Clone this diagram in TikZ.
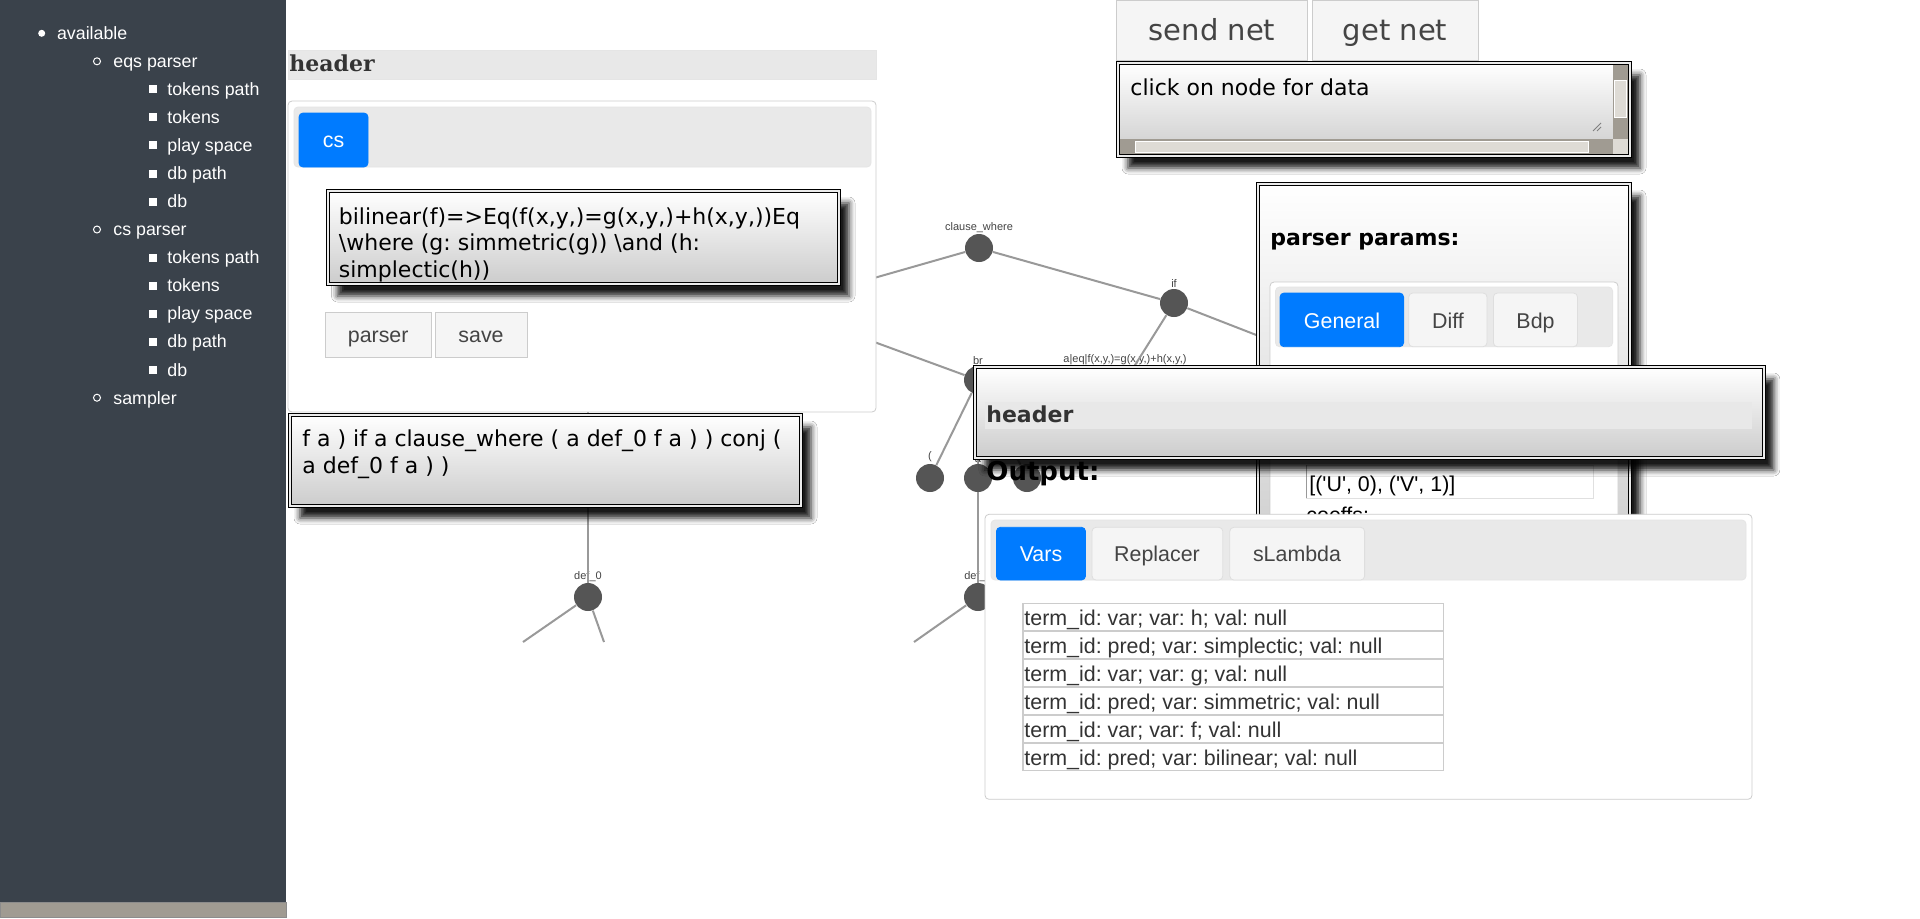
\documentclass[tikz,border=0pt]{standalone}
\usepackage{fontspec}
\newfontfamily\arialfont{Liberation Sans}
\newfontfamily\dvsans{DejaVu Sans}
\newfontfamily\dvserif{DejaVu Serif}
\usetikzlibrary{shadows.blur}

\definecolor{sidebarbg}{HTML}{3A424B}
\definecolor{scrollbg}{HTML}{A09B92}
\definecolor{scrollthumb}{HTML}{DEDBD5}
\definecolor{tabblue}{HTML}{007BFF}
\definecolor{tabbarbg}{HTML}{E9E9E9}
\definecolor{btnbg}{HTML}{F5F5F5}
\definecolor{panelline}{HTML}{CCCCCC}
\definecolor{headbg}{HTML}{E8E8E8}
\definecolor{gnodefill}{HTML}{555555}
\definecolor{gedgecol}{HTML}{999999}
\definecolor{darktext}{HTML}{333333}
\definecolor{btntext}{HTML}{444444}

\def\sidefont{\arialfont\fontsize{8.9}{10}\selectfont}
\def\uifont{\arialfont\fontsize{10.7}{12}\selectfont}
\def\boxfont{\dvsans\fontsize{11}{13}\selectfont}
\def\boldfont{\dvsans\bfseries\fontsize{11}{13}\selectfont}
\def\labfont{\arialfont\fontsize{5.5}{6}\selectfont}

\tikzset{
	popbox/.style={draw=black, line width=0.5pt, double=black!8, double distance=1pt, top color=white, bottom color=black!20,
		blur shadow={shadow xshift=5pt, shadow yshift=-6pt, shadow blur radius=3pt, shadow opacity=90}},
	gnode/.style={circle, fill=gnodefill, minimum size=14pt, inner sep=0pt},
	gedge/.style={draw=gedgecol, line width=1pt},
	glabel/.style={font=\labfont, text=btntext, inner sep=0pt, label distance=0.5pt},
	sideitem/.style={anchor=base west, text=white, font=\sidefont, inner sep=0pt},
	txt/.style={anchor=base west, inner sep=0pt},
	tabon/.style={fill=tabblue, draw=tabblue, rounded corners=2pt},
	taboff/.style={fill=btnbg, draw=black!13, rounded corners=2pt},
	tabbar/.style={fill=tabbarbg, draw=black!10, rounded corners=2pt},
	panel/.style={fill=white, draw=panelline, rounded corners=2pt},
	btn/.style={fill=btnbg, draw=panelline},
}

\begin{document}
\frenchspacing
\begin{tikzpicture}[x=0.5pt, y=-0.5pt]
		%%%%% START %%%%%
		\useasboundingbox (0,0) rectangle (1920,918);
		\fill[white] (0,0) rectangle (1920,918);
		
		% tree
		\node[gnode, label={[glabel]above:clause\_where}] (cw) at (979,248) {};
		\node[gnode, label={[glabel]above:if}] (iff) at (1174,303) {};
		\node[gnode, label={[glabel]above:br}] (br) at (978,380) {};
		\node[gnode, label={[glabel]above:{a|eq|f(x,y,)=g(x,y,)+h(x,y,)}}] (aeq) at (1125,381) {};
		\node[gnode, label={[glabel]above:(}] (lpar) at (930,478) {};
		\node[gnode, label={[glabel]above:a}] (anode) at (978,478) {};
		\node[gnode] (third) at (1027,478) {};
		\node[gnode, label={[glabel]above:def\_0}] (defnode) at (978,597) {};
		\node[gnode, label={[glabel]above:def\_0}] (def0) at (588,597) {};
		\coordinate (conj) at (776,306);
		\coordinate (rt) at (1300,352);
		\coordinate (top0) at (588,395);
		\coordinate (dl) at (914,642);
		\coordinate (el) at (523,642);
		\coordinate (er) at (604,642);
		
		\draw[gedge] (conj) -- (cw);
		\draw[gedge] (conj) -- (br);
		\draw[gedge] (cw) -- (iff);
		\draw[gedge] (iff) -- (rt);
		\draw[gedge] (iff) -- (aeq);
		\draw[gedge] (br) -- (lpar);
		\draw[gedge] (br) -- (anode);
		\draw[gedge] (br) -- (third);
		\draw[gedge] (anode) -- (defnode);
		\draw[gedge] (defnode) -- (dl);
		\draw[gedge] (top0) -- (def0);
		\draw[gedge] (def0) -- (el);
		\draw[gedge] (def0) -- (er);
		
		% sidebar
		\fill[sidebarbg] (0,0) rectangle (286,902);
		\draw[fill=scrollbg, draw=black!45] (0,902) rectangle (286,917);
		
		\fill[white] (41.7,33.3) circle (1.75pt);
		\node[sideitem] at (56.7,39.6) {available};
		\draw[white, line width=0.5pt] (97,61.3) circle (1.75pt);
		\node[sideitem] at (113,67.6) {eqs parser};
		\fill[white] (149,85.4) rectangle (157,93.4);
		\node[sideitem] at (167,95.7) {tokens path};
		\fill[white] (149,113.4) rectangle (157,121.4);
		\node[sideitem] at (167,123.7) {tokens};
		\fill[white] (149,141.4) rectangle (157,149.4);
		\node[sideitem] at (167,151.7) {play space};
		\fill[white] (149,169.5) rectangle (157,177.5);
		\node[sideitem] at (167,179.8) {db path};
		\fill[white] (149,197.5) rectangle (157,205.5);
		\node[sideitem] at (167,207.8) {db};
		\draw[white, line width=0.5pt] (97,229.5) circle (1.75pt);
		\node[sideitem] at (113,235.8) {cs parser};
		\fill[white] (149,253.6) rectangle (157,261.6);
		\node[sideitem] at (167,263.9) {tokens path};
		\fill[white] (149,281.6) rectangle (157,289.6);
		\node[sideitem] at (167,291.9) {tokens};
		\fill[white] (149,309.6) rectangle (157,317.6);
		\node[sideitem] at (167,319.9) {play space};
		\fill[white] (149,337.6) rectangle (157,345.6);
		\node[sideitem] at (167,347.9) {db path};
		\fill[white] (149,365.7) rectangle (157,373.7);
		\node[sideitem] at (167,376) {db};
		\draw[white, line width=0.5pt] (97,397.7) circle (1.75pt);
		\node[sideitem] at (113,404) {sampler};
		
		% left panel
		\draw[fill=headbg, draw=black!10] (288,50) rectangle (876,79);
		\node[txt, font=\dvserif\bfseries\fontsize{11}{13}\selectfont, text=darktext] at (289,71.7) {header};
		\draw[panel] (288,101) rectangle (876,412);
		\draw[tabbar] (294,107) rectangle (871,167);
		\draw[tabon] (299,113) rectangle (368,167);
		\node[anchor=base, font=\uifont, text=white] at (333.5,147.3) {cs};
		\draw[popbox] (327.5,191) rectangle (839,284);
		\node[txt, font=\boxfont] at (338.5,224) {bilinear(f)=>Eq(f(x,y,)=g(x,y,)+h(x,y,))Eq};
		\node[txt, font=\boxfont] at (338.5,250.7) {\textbackslash where (g: simmetric(g)) \textbackslash and (h:};
		\node[txt, font=\boxfont] at (338.5,277.3) {simplectic(h))};
		\draw[btn] (325.5,312) rectangle (431,357);
		\node[anchor=base, font=\uifont, text=btntext] at (378.2,342.3) {parser};
		\draw[btn] (435,312) rectangle (527,357);
		\node[anchor=base, font=\uifont, text=btntext] at (481,342.3) {save};
		
		\draw[popbox] (290,415) rectangle (801,506);
		\node[txt, font=\boxfont] at (302,446.7) {f a ) if a clause\_where ( a def\_0 f a ) ) conj (};
		\node[txt, font=\boxfont] at (302,473.3) {a def\_0 f a ) )};
		
		\node[txt, font=\dvsans\bfseries\fontsize{13}{15}\selectfont] at (986,480) {Output:};
		
		% net buttons
		\draw[btn] (1116,0) rectangle (1307.5,60.7);
		\node[anchor=base, font=\dvsans\fontsize{14.5}{16}\selectfont, text=btntext] at (1212,40.7) {send net};
		\draw[btn] (1312,0) rectangle (1478.6,60.7);
		\node[anchor=base, font=\dvsans\fontsize{14.5}{16}\selectfont, text=btntext] at (1395,40.7) {get net};
		
		\draw[popbox] (1118,63) rectangle (1630,156);
		\node[txt, font=\boxfont] at (1130,95) {click on node for data};
		\fill[scrollbg] (1612.5,65) rectangle (1628,139.3);
		\draw[fill=scrollthumb, draw=white] (1614,80) rectangle (1626.5,117.3);
		\fill[scrollbg] (1120,139.3) rectangle (1612.5,154);
		\draw[fill=scrollthumb, draw=white] (1135,141.5) rectangle (1588.6,152);
		\fill[scrollthumb] (1612.5,139.3) rectangle (1628,154);
		\draw[black!50, line width=0.4pt] (1593,131) -- (1601,123) (1597,131) -- (1601,127);
		
		% parser params
		\draw[popbox] (1258,184) rectangle (1630,570);
		\node[txt, font=\boldfont] at (1270,245) {parser params:};
		\draw[panel] (1270,282) rectangle (1618,570);
		\draw[tabbar] (1275.5,287) rectangle (1612.6,346.7);
		\draw[tabon] (1280,293) rectangle (1403.6,346.7);
		\node[anchor=base, font=\uifont, text=white] at (1342,328.3) {General};
		\draw[taboff] (1408.7,293) rectangle (1487,346.7);
		\node[anchor=base, font=\uifont, text=btntext] at (1448,328.3) {Diff};
		\draw[taboff] (1493.4,293) rectangle (1577.5,346.7);
		\node[anchor=base, font=\uifont, text=btntext] at (1535.5,328.3) {Bdp};
		\draw[fill=white, draw=black!12] (1306.5,465) rectangle (1593.6,498);
		\draw[black!40] (1306.5,465) -- (1306.5,498);
		\node[txt, font=\uifont] at (1309,491.7) {[('U', 0), ('V', 1)]};
		\node[txt, font=\uifont] at (1306,522) {coeffs:};
		
		% output panel
		\draw[panel] (985,514.3) rectangle (1752,799.3);
		\draw[tabbar] (991,520) rectangle (1746,580);
		\draw[tabon] (996.4,527.3) rectangle (1085.5,580);
		\node[anchor=base, font=\uifont, text=white] at (1041,561) {Vars};
		\draw[taboff] (1092,527.3) rectangle (1222.8,580);
		\node[anchor=base, font=\uifont, text=btntext] at (1157,561) {Replacer};
		\draw[taboff] (1229.8,527.3) rectangle (1364.6,580);
		\node[anchor=base, font=\uifont, text=btntext] at (1297,561) {sLambda};
		
		\draw[panelline, line width=0.75pt] (1023,603.3) rectangle (1443.5,630.3);
		\node[txt, font=\uifont, text=darktext] at (1024,625) {term\_id: var; var: h; val: null};
		\draw[panelline, line width=0.75pt] (1023,631.3) rectangle (1443.5,658.3);
		\node[txt, font=\uifont, text=darktext] at (1024,653) {term\_id: pred; var: simplectic; val: null};
		\draw[panelline, line width=0.75pt] (1023,659.3) rectangle (1443.5,686.3);
		\node[txt, font=\uifont, text=darktext] at (1024,681) {term\_id: var; var: g; val: null};
		\draw[panelline, line width=0.75pt] (1023,687.3) rectangle (1443.5,714.3);
		\node[txt, font=\uifont, text=darktext] at (1024,709) {term\_id: pred; var: simmetric; val: null};
		\draw[panelline, line width=0.75pt] (1023,715.3) rectangle (1443.5,742.3);
		\node[txt, font=\uifont, text=darktext] at (1024,737) {term\_id: var; var: f; val: null};
		\draw[panelline, line width=0.75pt] (1023,743.3) rectangle (1443.5,770.3);
		\node[txt, font=\uifont, text=darktext] at (1024,765) {term\_id: pred; var: bilinear; val: null};
		
		% header popup
		\draw[popbox] (974.7,367) rectangle (1763.8,458);
		\fill[headbg] (985,401.7) rectangle (1752.4,429.3);
		\node[txt, font=\boldfont, text=darktext] at (986,422.7) {header};
		
		%%%%% END %%%%%
\end{tikzpicture}
\end{document}
